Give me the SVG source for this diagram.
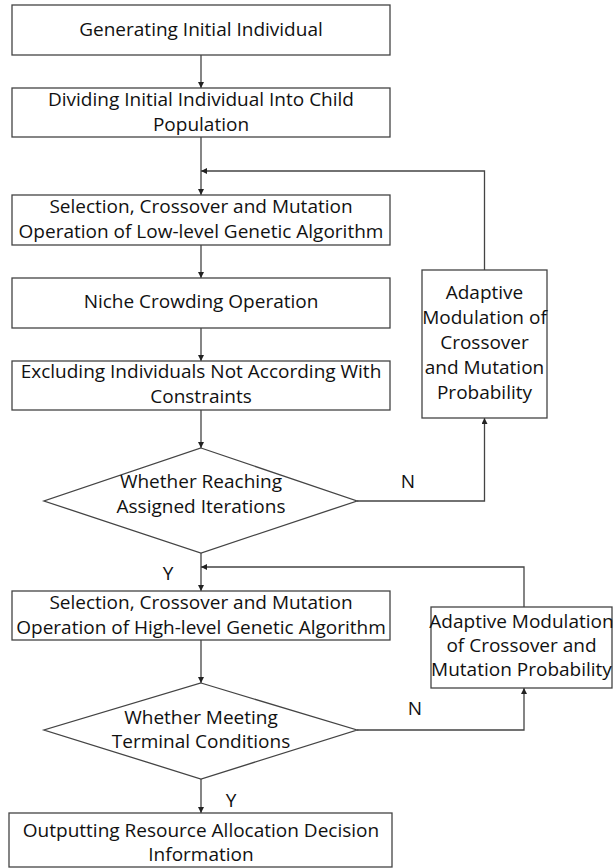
<svg xmlns="http://www.w3.org/2000/svg" width="613" height="868" viewBox="0 0 613 868">
<defs>
<style>
.box{fill:#fff;stroke:#444;stroke-width:1.3}
.ln{fill:none;stroke:#444;stroke-width:1.3}
text{font-family:"Open Sans","Liberation Sans",sans-serif;font-size:19px;fill:#111;text-anchor:middle}
</style>
<marker id="ah" viewBox="0 0 8 8" refX="8" refY="4" markerWidth="6" markerHeight="6" markerUnits="userSpaceOnUse" orient="auto">
<path d="M0,0 L8,4 L0,8 Z" fill="#222"/>
</marker>
</defs>
<rect width="613" height="868" fill="#fff"/>
<g id="connectors">
<line class="ln" x1="201" y1="55" x2="201" y2="88" marker-end="url(#ah)"/>
<line class="ln" x1="201" y1="137" x2="201" y2="195" marker-end="url(#ah)"/>
<polyline class="ln" points="484.5,270 484.5,171 201,171" marker-end="url(#ah)"/>
<line class="ln" x1="201" y1="245" x2="201" y2="278" marker-end="url(#ah)"/>
<line class="ln" x1="201" y1="328" x2="201" y2="361" marker-end="url(#ah)"/>
<line class="ln" x1="201" y1="410" x2="201" y2="448" marker-end="url(#ah)"/>
<polyline class="ln" points="357,501 484.5,501 484.5,418" marker-end="url(#ah)"/>
<line class="ln" x1="201" y1="553" x2="201" y2="591" marker-end="url(#ah)"/>
<polyline class="ln" points="524,607 524,567 201,567" marker-end="url(#ah)"/>
<line class="ln" x1="201" y1="640" x2="201" y2="683" marker-end="url(#ah)"/>
<polyline class="ln" points="357,730 524,730 524,688" marker-end="url(#ah)"/>
<line class="ln" x1="201" y1="779" x2="201" y2="813" marker-end="url(#ah)"/>
<text x="408" y="488">N</text>
<text x="168" y="580">Y</text>
<text x="415" y="715">N</text>
<text x="231" y="807">Y</text>
</g>
<g id="n1"><rect class="box" x="12" y="5" width="378" height="50"/><text x="201" y="36">Generating Initial Individual</text></g>
<g id="n2"><rect class="box" x="12" y="88" width="378" height="49"/><text x="201" y="106">Dividing Initial Individual Into Child</text><text x="201" y="131">Population</text></g>
<g id="n3"><rect class="box" x="12" y="195" width="378" height="50"/><text x="201" y="213">Selection, Crossover and Mutation</text><text x="201" y="238">Operation of Low-level Genetic Algorithm</text></g>
<g id="n4"><rect class="box" x="12" y="278" width="378" height="50"/><text x="201" y="308">Niche Crowding Operation</text></g>
<g id="n5"><rect class="box" x="12" y="361" width="378" height="49"/><text x="201" y="378">Excluding Individuals Not According With</text><text x="201" y="403">Constraints</text></g>
<g id="n6"><polygon class="box" points="201,448 357,501 201,553 44,501"/><text x="201" y="488">Whether Reaching</text><text x="201" y="513">Assigned Iterations</text></g>
<g id="n7"><rect class="box" x="422" y="270" width="125" height="148"/><text x="484.5" y="299">Adaptive</text><text x="484.5" y="324">Modulation of</text><text x="484.5" y="349">Crossover</text><text x="484.5" y="374">and Mutation</text><text x="484.5" y="399">Probability</text></g>
<g id="n8"><rect class="box" x="12" y="591" width="378" height="49"/><text x="201" y="609">Selection, Crossover and Mutation</text><text x="201" y="634">Operation of High-level Genetic Algorithm</text></g>
<g id="n9"><rect class="box" x="431" y="607" width="181" height="81"/><text x="521.5" y="628">Adaptive Modulation</text><text x="521.5" y="652">of Crossover and</text><text x="521.5" y="676">Mutation Probability</text></g>
<g id="n10"><polygon class="box" points="201,683 357,730 201,779 44,730"/><text x="201" y="724">Whether Meeting</text><text x="201" y="748">Terminal Conditions</text></g>
<g id="n11"><rect class="box" x="9" y="813" width="383" height="54"/><text x="201" y="837">Outputting Resource Allocation Decision</text><text x="201" y="861">Information</text></g>
</svg>
